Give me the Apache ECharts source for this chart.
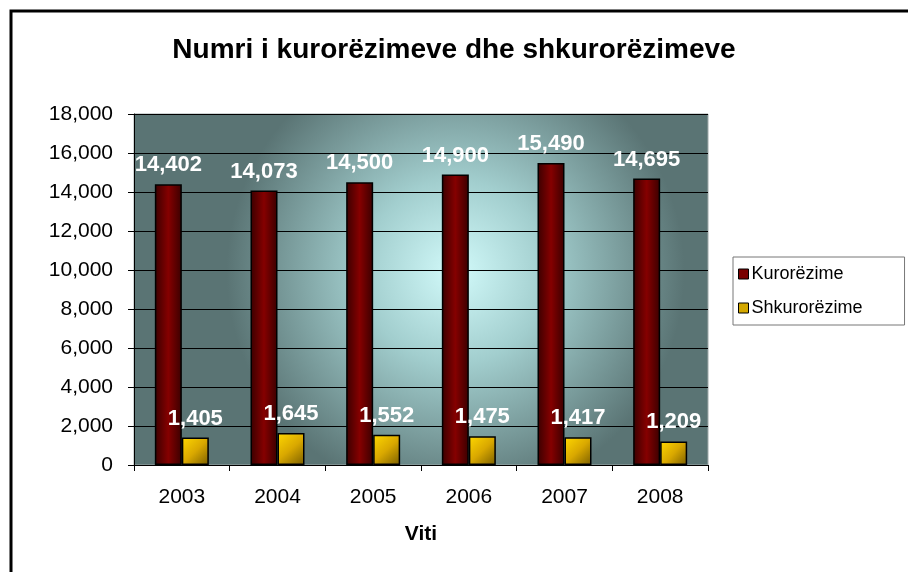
<!DOCTYPE html>
<html><head><meta charset="utf-8">
<script src="https://cdn.jsdelivr.net/npm/echarts@6/dist/echarts.min.js"></script>
<style>html,body{margin:0;padding:0;background:#fff}#c{width:908px;height:572px}</style>
</head><body><div id="c"></div>
<script>
var categories = ['2003','2004','2005','2006','2007','2008'];
var kurorezime = [14402, 14073, 14500, 14900, 15490, 14695];
var shkurorezime = [1405, 1645, 1552, 1475, 1417, 1209];
var yTicks = {min: 0, max: 18000, interval: 2000};

var chart = echarts.init(document.getElementById('c'));
var fmt = function (v) { return String(v).replace(/\B(?=(\d{3})+(?!\d))/g, ','); };
var FF = 'Liberation Sans, Arial, sans-serif';
var lbl = {show: true, position: 'top', distance: 8, color: '#ffffff', fontFamily: FF,
  fontSize: 22, fontWeight: 'bold', formatter: function (p) { return fmt(p.value); }};
chart.setOption({
  animation: false,
  backgroundColor: '#ffffff',
  title: {text: 'Numri i kurorëzimeve dhe shkurorëzimeve', left: 'center', top: 31,
    textStyle: {fontFamily: FF, fontSize: 28, fontWeight: 'bold', color: '#000'}},
  graphic: [
    {type: 'rect', z: -10, shape: {x: 11, y: 11, width: 1000, height: 1000},
      style: {fill: 'none', stroke: '#000', lineWidth: 3}},
    {type: 'rect', z: -5, shape: {x: 134, y: 114, width: 574, height: 351},
      style: {fill: new echarts.graphic.RadialGradient(0.56, 0.45, 0.65, [
        {offset: 0, color: '#d2fafa'}, {offset: 0.4, color: '#a2cece'}, {offset: 1, color: '#5a7474'}]),
        stroke: '#a0aaaa', lineWidth: 1}}
  ],
  legend: {orient: 'vertical', left: 733, top: 257, icon: 'rect', itemWidth: 10, itemHeight: 10, itemGap: 16,
    padding: [8, 42, 8, 5], borderColor: '#777', borderWidth: 1, backgroundColor: '#fff',
    textStyle: {fontFamily: FF, fontSize: 18, color: '#000', padding: [0, 0, 0, -2]},
    data: [{name: 'Kurorëzime', itemStyle: {color: '#7a0000', borderColor: '#000', borderWidth: 1}},
           {name: 'Shkurorëzime', itemStyle: {color: '#d4a800', borderColor: '#000', borderWidth: 1}}]},
  grid: {left: 134, right: 200, top: 114, bottom: 107},
  xAxis: {type: 'category', data: categories, name: 'Viti', nameLocation: 'middle', nameGap: 59,
    nameTextStyle: {fontFamily: FF, fontSize: 21, fontWeight: 'bold', color: '#000'},
    axisLine: {lineStyle: {color: '#000'}}, axisTick: {show: true, length: 6, lineStyle: {color: '#000'}},
    axisLabel: {fontFamily: FF, fontSize: 21, color: '#000', margin: 22}},
  yAxis: {type: 'value', min: yTicks.min, max: yTicks.max, interval: yTicks.interval,
    axisLine: {show: true, lineStyle: {color: '#000'}}, axisTick: {show: true, length: 6, lineStyle: {color: '#000'}},
    splitLine: {lineStyle: {color: '#000', width: 1}},
    axisLabel: {fontFamily: FF, fontSize: 21, color: '#000', margin: 21, formatter: fmt}},
  series: [
    {name: 'Kurorëzime', type: 'bar', data: kurorezime, barWidth: 27, barGap: '0%', label: lbl,
      itemStyle: {borderColor: '#000', borderWidth: 1.5,
        color: new echarts.graphic.LinearGradient(0, 0, 1, 0, [
          {offset: 0, color: '#3a0000'}, {offset: 0.5, color: '#850000'}, {offset: 1, color: '#3a0000'}])}},
    {name: 'Shkurorëzime', type: 'bar', data: shkurorezime, barWidth: 27, label: lbl,
      itemStyle: {borderColor: '#000', borderWidth: 1.5,
        color: new echarts.graphic.LinearGradient(0, 0, 1, 1, [
          {offset: 0, color: '#ffd800'}, {offset: 0.5, color: '#d9a800'}, {offset: 1, color: '#7a5e00'}])}}
  ]
});
</script></body></html>
